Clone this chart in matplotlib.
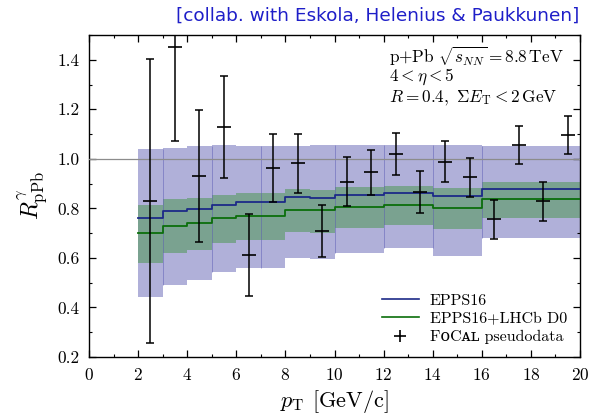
import matplotlib
matplotlib.use("Agg")
import matplotlib.pyplot as plt
from matplotlib.lines import Line2D
from matplotlib.ticker import MultipleLocator
import numpy as np

plt.rcParams['font.family'] = 'serif'
plt.rcParams['font.serif'] = ['cmr10']
plt.rcParams['mathtext.fontset'] = 'cm'
plt.rcParams['axes.formatter.use_mathtext'] = True

# ---------- data ----------
# bins of 1 GeV from 2 to 20
bin_edges = np.arange(2, 21)
# the band was computed in pieces, the seams show up between them
seam_edges = [3, 5, 7, 10, 12, 14, 16]

epps_hi = [1.040, 1.044, 1.050, 1.054, 1.052, 1.052, 1.052, 1.057, 1.054,
           1.054, 1.054, 1.054, 1.057, 1.057, 1.052, 1.052, 1.052, 1.052]
epps_lo = [0.444, 0.491, 0.511, 0.545, 0.561, 0.561, 0.599, 0.596, 0.621,
           0.621, 0.639, 0.639, 0.609, 0.609, 0.679, 0.679, 0.679, 0.679]
epps_c = [0.762, 0.789, 0.798, 0.815, 0.825, 0.825, 0.844, 0.841, 0.852,
          0.852, 0.861, 0.861, 0.849, 0.849, 0.877, 0.877, 0.877, 0.877]

lhcb_hi = [0.814, 0.836, 0.842, 0.855, 0.861, 0.861, 0.877, 0.875, 0.886,
           0.886, 0.891, 0.891, 0.881, 0.881, 0.906, 0.906, 0.906, 0.906]
lhcb_lo = [0.581, 0.621, 0.632, 0.659, 0.673, 0.673, 0.705, 0.702, 0.722,
           0.722, 0.733, 0.733, 0.716, 0.716, 0.763, 0.763, 0.763, 0.763]
lhcb_c = [0.700, 0.728, 0.740, 0.763, 0.771, 0.771, 0.795, 0.793, 0.806,
          0.806, 0.814, 0.814, 0.801, 0.801, 0.837, 0.837, 0.837, 0.837]

# FoCal pseudodata
pd_x = [2.5, 3.5, 4.5, 5.5, 6.5, 7.5, 8.5, 9.5, 10.5, 11.5, 12.5, 13.5,
        14.5, 15.5, 16.5, 17.5, 18.5, 19.5]
pd_y = [0.830, 1.450, 0.931, 1.127, 0.612, 0.964, 0.982, 0.709, 0.908,
        0.945, 1.020, 0.865, 0.989, 0.925, 0.756, 1.055, 0.828, 1.097]
pd_err = [0.573, 0.377, 0.268, 0.206, 0.165, 0.137, 0.120, 0.106, 0.098,
          0.092, 0.086, 0.085, 0.082, 0.080, 0.078, 0.077, 0.077, 0.077]


def stepped(v):
    return list(v) + [v[-1]]


fig = plt.figure(figsize=(5.91, 4.19), dpi=100)
ax = fig.add_axes([0.1506, 0.148, 0.8308, 0.7685])

blue_band = '#b0b0d9'
green_band = '#7aa290'
blue_line = '#1c2a88'
green_line = '#0b6e0b'

ax.fill_between(bin_edges, stepped(epps_lo), stepped(epps_hi), step='post',
                color=blue_band, lw=0, zorder=1)
ax.fill_between(bin_edges, stepped(lhcb_lo), stepped(lhcb_hi), step='post',
                color=green_band, lw=0, zorder=2)

# seams between band pieces
for s in seam_edges:
    i = list(bin_edges).index(s)
    lo = max(epps_lo[i - 1], epps_lo[i])
    hi = min(epps_hi[i - 1], epps_hi[i])
    ax.vlines(s, lo, hi, color='#5a5ab4', lw=0.7, alpha=0.5, zorder=3)

ax.axhline(1.0, color='#8c8c8c', lw=0.9, zorder=3)

ax.step(bin_edges, stepped(epps_c), where='post', color=blue_line, lw=1.3, zorder=4)
ax.step(bin_edges, stepped(lhcb_c), where='post', color=green_line, lw=1.3, zorder=4)

ax.errorbar(pd_x, pd_y, yerr=pd_err, fmt='none', ecolor='k', elinewidth=1.1,
            capsize=3, capthick=1.1, zorder=5)
ax.plot(pd_x, pd_y, ls='none', marker='_', ms=10, mew=1.2, color='k', zorder=5)

ax.set_xlim(0, 20)
ax.set_ylim(0.2, 1.5)
ax.xaxis.set_major_locator(MultipleLocator(2))
ax.xaxis.set_minor_locator(MultipleLocator(1))
ax.yaxis.set_major_locator(MultipleLocator(0.2))
ax.yaxis.set_minor_locator(MultipleLocator(0.1))
ax.yaxis.set_major_formatter(matplotlib.ticker.FormatStrFormatter('%.1f'))
ax.tick_params(which='both', direction='in', top=True, right=True, labelsize=12.5)
ax.tick_params(which='major', length=5, width=0.9, pad=7)
ax.tick_params(which='minor', length=2.5, width=0.8)
for sp in ax.spines.values():
    sp.set_linewidth(1.0)

ax.set_xlabel(r'$p_{\mathrm{T}}$ [GeV/c]', fontsize=16, labelpad=4)
ax.set_ylabel(r'$R^{\gamma}_{\mathrm{pPb}}$', fontsize=17, labelpad=6)

ax.text(0.611, 0.932, r'p+Pb $\sqrt{s_{NN}}=8.8\,\mathrm{TeV}$', transform=ax.transAxes,
        fontsize=12.4, va='center', ha='left')
ax.text(0.611, 0.870, r'$4<\eta<5$', transform=ax.transAxes,
        fontsize=12.4, va='center', ha='left')
ax.text(0.611, 0.807, r'$R=0.4,\ \Sigma E_{\mathrm{T}}<2\,\mathrm{GeV}$', transform=ax.transAxes,
        fontsize=12.4, va='center', ha='left')

handles = [Line2D([], [], color=blue_line, lw=1.2),
           Line2D([], [], color=green_line, lw=1.2),
           Line2D([], [], color='k', marker='+', ls='none', ms=8, mew=1.2)]
labels = ['EPPS16', 'EPPS16+LHCb D0', 'F\u1d0fC\u1d00\u029f pseudodata']
ax.legend(handles, labels, loc='lower right', frameon=False, handlelength=2.3,
          handletextpad=0.7, labelspacing=0.25, borderaxespad=0.4,
          prop={'family': ['cmr10', 'DejaVu Serif'], 'size': 11.5})

fig.text(0.981, 0.962, '[collab. with Eskola, Helenius & Paukkunen]', color='#1e1ec8',
         family='DejaVu Sans', fontsize=13.3, ha='right', va='center')

fig.savefig('out.png', dpi=100)
